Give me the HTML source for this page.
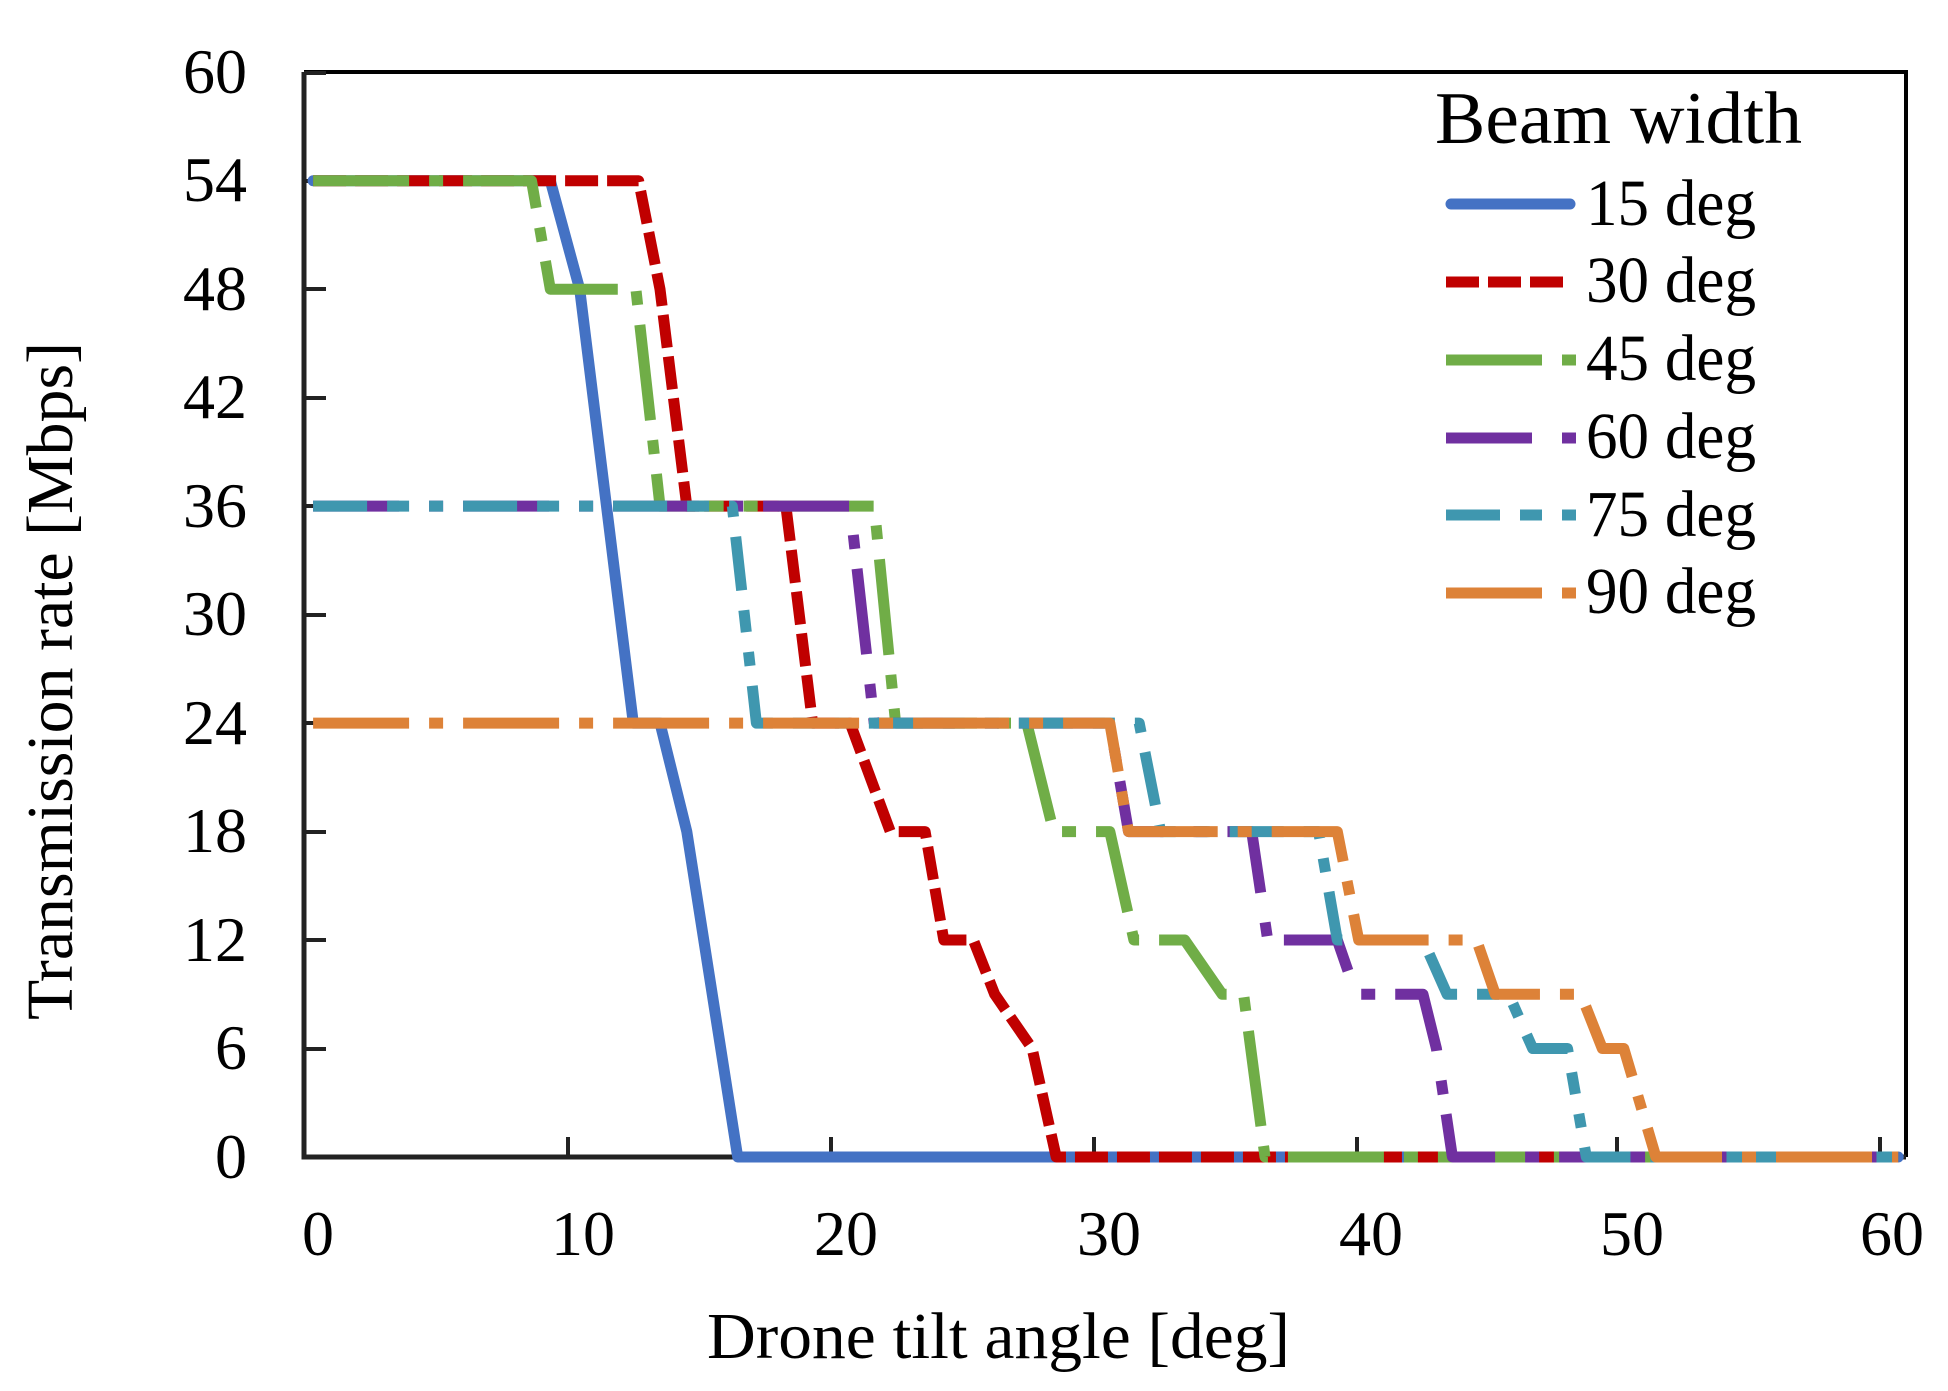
<!DOCTYPE html>
<html><head><meta charset="utf-8"><style>
html,body{margin:0;padding:0;background:#fff;}
svg{display:block;}
text{font-family:"Liberation Serif","DejaVu Serif",serif;fill:#000;}
</style></head><body>
<svg id="s" width="1948" height="1391" viewBox="0 0 1948 1391" xmlns="http://www.w3.org/2000/svg">
<rect width="1948" height="1391" fill="#fff"/>
<path d="M304,72 H1906 V1157" fill="none" stroke="#000" stroke-width="4"/>
<path d="M304,72 V1157 H1906" fill="none" stroke="#222" stroke-width="5"/>
<g stroke="#222" stroke-width="4">
<line x1="304" y1="73" x2="326" y2="73"/><line x1="304" y1="181" x2="326" y2="181"/>
<line x1="304" y1="289" x2="326" y2="289"/><line x1="304" y1="398" x2="326" y2="398"/>
<line x1="304" y1="506" x2="326" y2="506"/><line x1="304" y1="615" x2="326" y2="615"/>
<line x1="304" y1="723" x2="326" y2="723"/><line x1="304" y1="832" x2="326" y2="832"/>
<line x1="304" y1="940" x2="326" y2="940"/><line x1="304" y1="1049" x2="326" y2="1049"/>
<line x1="568" y1="1137" x2="568" y2="1157"/><line x1="831" y1="1137" x2="831" y2="1157"/>
<line x1="1094" y1="1137" x2="1094" y2="1157"/><line x1="1357" y1="1137" x2="1357" y2="1157"/>
<line x1="1617" y1="1137" x2="1617" y2="1157"/><line x1="1880" y1="1137" x2="1880" y2="1157"/>
</g>
<g font-size="64" text-anchor="end">
<text x="247" y="93">60</text><text x="247" y="201">54</text><text x="247" y="310">48</text>
<text x="247" y="418">42</text><text x="247" y="527">36</text><text x="247" y="635">30</text>
<text x="247" y="744">24</text><text x="247" y="852">18</text><text x="247" y="961">12</text>
<text x="247" y="1069">6</text><text x="247" y="1178">0</text>
</g>
<g font-size="64" text-anchor="middle">
<text x="318" y="1255">0</text><text x="583" y="1255">10</text><text x="846" y="1255">20</text>
<text x="1109" y="1255">30</text><text x="1371" y="1255">40</text><text x="1632" y="1255">50</text>
<text x="1892" y="1255">60</text>
</g>
<text x="707" y="1358" font-size="66" textLength="583" lengthAdjust="spacingAndGlyphs">Drone tilt angle  [deg]</text>
<text transform="translate(72,1020) rotate(-90)" font-size="66" textLength="678" lengthAdjust="spacingAndGlyphs">Transmission rate [Mbps]</text>
<g id="series"></g>
<text x="1435" y="143" font-size="74" textLength="367" lengthAdjust="spacingAndGlyphs">Beam width</text>
<g font-size="66">
<text x="1586" y="225" textLength="170" lengthAdjust="spacingAndGlyphs">15 deg</text>
<text x="1586" y="302" textLength="170" lengthAdjust="spacingAndGlyphs">30 deg</text>
<text x="1586" y="380" textLength="170" lengthAdjust="spacingAndGlyphs">45 deg</text>
<text x="1586" y="458" textLength="170" lengthAdjust="spacingAndGlyphs">60 deg</text>
<text x="1586" y="536" textLength="170" lengthAdjust="spacingAndGlyphs">75 deg</text>
<text x="1586" y="613" textLength="170" lengthAdjust="spacingAndGlyphs">90 deg</text>
</g>
<g stroke-width="11" fill="none">
<line x1="1451" y1="204" x2="1570" y2="204" stroke="#4472C4" stroke-linecap="round"/>
<line x1="1446" y1="282" x2="1563" y2="282" stroke="#C00000" stroke-dasharray="33,9"/>
<line x1="1446" y1="360" x2="1576" y2="360" stroke="#70AD47" stroke-dasharray="96,20,14,20"/>
<line x1="1446" y1="438" x2="1576" y2="438" stroke="#7030A0" stroke-dasharray="86,30,14,20"/>
<line x1="1446" y1="515" x2="1576" y2="515" stroke="#3F97AF" stroke-dasharray="54,20,22,20,14,20"/>
<line x1="1446" y1="593" x2="1576" y2="593" stroke="#DD8238" stroke-dasharray="96,20,14,20"/>
</g>
</svg>
<script>
(function(){
var X=function(d){return 304+26.77*d;},Y=function(v){return 1157-18.08*v;};
var S=[
["#4472C4","none","round",[[0.34,54],[9.2,54],[10.3,48],[11.3,36],[12.3,24],[13.3,24],[14.3,18],[16.2,0],[59.55,0]]],
["#C00000","33,9","butt",[[0.34,54],[12.5,54],[13.3,48],[14.3,36],[18,36],[19,24],[20.4,24],[21.9,18],[23.2,18],[23.9,12],[25,12],[25.8,9],[27.2,6],[28.1,0],[59.55,0]]],
["#70AD47","96,20,14,20","butt",[[0.34,54],[8.5,54],[9.2,48],[12.4,48],[13.3,36],[21.3,36],[22.1,24],[27,24],[28,18],[30.1,18],[31,12],[32.9,12],[34.3,9],[35.1,9],[35.9,0],[59.55,0]]],
["#7030A0","86,30,14,20","butt",[[0.34,36],[20.4,36],[21.3,24],[30.1,24],[30.8,18],[35.4,18],[36,12],[38.6,12],[39.3,9],[41.8,9],[42.3,6],[42.9,0],[59.55,0]]],
["#3F97AF","54,20,22,20,14,20","butt",[[0.34,36],[16,36],[16.9,24],[31.2,24],[32,18],[37.9,18],[38.6,12],[41.8,12],[42.7,9],[45,9],[45.9,6],[47.2,6],[47.9,0],[59.55,0]]],
["#DD8238","96,20,14,20","butt",[[0.34,24],[30.1,24],[30.8,18],[38.6,18],[39.4,12],[43.8,12],[44.5,9],[47.7,9],[48.5,6],[49.3,6],[50.5,0],[59.55,0]]]
];
var g=document.getElementById("series"),ns="http://www.w3.org/2000/svg";
S.forEach(function(s){
var p=document.createElementNS(ns,"path");
p.setAttribute("d",s[3].map(function(q,i){return (i?"L":"M")+X(q[0]).toFixed(1)+","+Y(q[1]).toFixed(1);}).join(""));
p.setAttribute("fill","none");p.setAttribute("stroke",s[0]);p.setAttribute("stroke-width","11");
p.setAttribute("stroke-linejoin","round");p.setAttribute("stroke-linecap",s[2]);
if(s[1]!=="none")p.setAttribute("stroke-dasharray",s[1]);
g.appendChild(p);
});
})();
</script>
</body></html>
